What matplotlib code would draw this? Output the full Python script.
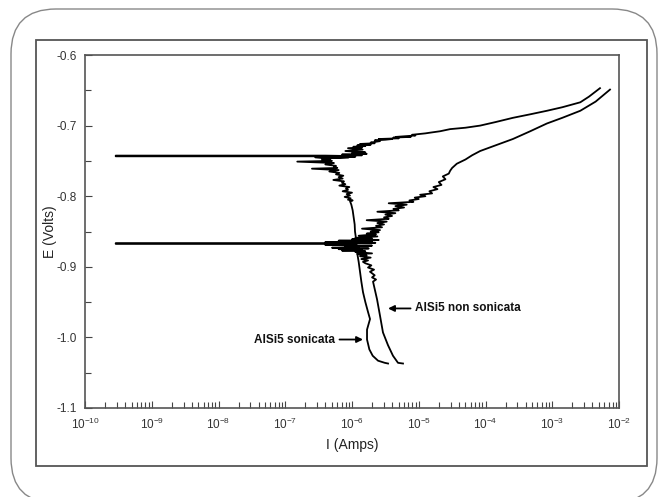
import numpy as np
import matplotlib
matplotlib.use("Agg")
import matplotlib.pyplot as plt
from matplotlib.patches import Rectangle, FancyBboxPatch
from matplotlib.ticker import LogLocator, NullFormatter, MultipleLocator

plt.rcParams["font.family"] = ["Liberation Sans", "DejaVu Sans"]
plt.rcParams["mathtext.fontset"] = "custom"
plt.rcParams["mathtext.rm"] = "Liberation Sans"
plt.rcParams["mathtext.it"] = "Liberation Sans:italic"
plt.rcParams["axes.unicode_minus"] = False

# AlSi5 sonicata: log10(I/A) and E (V), in scan order (cathodic -> anodic)
son_logi = [-5.46, -5.51, -5.61, -5.69, -5.74, -5.775, -5.775, -5.73, -5.76, -5.80,
            -5.835, -5.86, -5.88, -5.90, -5.925, -5.93, -5.94, -5.955, -5.96, -5.975,
            -5.99, -6.01, -6.03,
            -5.99, -6.06, -6.02, -6.11, -6.03, -6.08, -6.00, -6.14, -6.06, -6.09,
            -6.04, -6.19, -6.10, -6.15, -6.12, -6.28, -6.14, -6.20, -6.13, -6.24,
            -6.19, -6.34, -6.20, -6.60, -6.22, -6.27, -6.24, -6.40, -6.27, -6.82,
            -6.30, -6.45, -6.32, -6.55, -6.38,
            -9.54, -9.54,
            -6.40, -6.10, -6.45, -6.05, -6.35, -5.95, -6.20, -5.85, -6.15, -5.78,
            -6.00, -5.80, -6.10, -5.84, -6.06, -5.85, -5.98, -5.80, -5.92, -5.72,
            -5.88, -5.66, -5.72, -5.58, -5.66, -5.50, -5.40, -5.60, -5.30, -5.38,
            -5.12, -5.34, -5.05, -5.10, -4.90, -4.83,
            -4.68, -4.53, -4.30, -4.08, -3.85, -3.59, -3.33, -3.08, -2.85, -2.58,
            -2.45, -2.285]
son_e = [-1.037, -1.036, -1.033, -1.026, -1.017, -1.003, -0.989, -0.974, -0.964, -0.950,
         -0.936, -0.921, -0.907, -0.893, -0.879, -0.870, -0.860, -0.850, -0.840, -0.830,
         -0.820, -0.812, -0.807,
         -0.806, -0.805, -0.803, -0.801, -0.799, -0.797, -0.795, -0.793, -0.791, -0.789,
         -0.787, -0.785, -0.783, -0.781, -0.779, -0.777, -0.775, -0.773, -0.771, -0.769,
         -0.767, -0.765, -0.763, -0.761, -0.760, -0.758, -0.757, -0.755, -0.753, -0.751,
         -0.750, -0.748, -0.747, -0.745, -0.7435,
         -0.7435, -0.7425,
         -0.7425, -0.743, -0.744, -0.745, -0.746, -0.744, -0.743, -0.742, -0.741, -0.740,
         -0.739, -0.738, -0.736, -0.734, -0.732, -0.731, -0.730, -0.729, -0.728, -0.727,
         -0.726, -0.725, -0.724, -0.722, -0.721, -0.720, -0.719, -0.719, -0.718, -0.717,
         -0.716, -0.716, -0.714, -0.713, -0.711, -0.710,
         -0.708, -0.705, -0.703, -0.700, -0.695, -0.689, -0.684, -0.679, -0.674, -0.667,
         -0.659, -0.647]

# AlSi5 non sonicata
non_logi = [-5.236, -5.311, -5.386, -5.461, -5.536, -5.581, -5.625, -5.685, -5.64, -5.70,
            -5.66, -5.73, -5.67, -5.76, -5.71, -5.80, -5.835,
            -5.76, -5.86, -5.72, -5.88, -5.78, -5.92, -5.70, -5.95, -5.80, -6.15,
            -5.85, -6.20, -5.75, -6.30, -5.90, -6.10, -5.70, -6.40, -5.95, -6.30,
            -9.54, -9.54, -6.30,
            -5.65, -6.40, -5.70, -6.20, -5.60, -6.00, -5.70, -5.95,
            -5.62, -5.90, -5.64, -5.78, -5.60, -5.72, -5.58, -5.85, -5.55, -5.64,
            -5.52, -5.62, -5.48, -5.78, -5.45, -5.52, -5.40, -5.50, -5.35, -5.62,
            -5.30, -5.38, -5.22, -5.35, -5.18, -5.45, -5.08, -5.14, -5.00, -5.06,
            -4.90, -4.98, -4.80, -4.84, -4.72, -4.78, -4.66, -4.70, -4.60, -4.64,
            -4.55, -4.53, -4.50, -4.43, -4.30, -4.20, -4.08, -3.85, -3.59, -3.33,
            -3.08, -2.85, -2.58, -2.35, -2.135]
non_e = [-1.037, -1.036, -1.026, -1.011, -0.993, -0.969, -0.946, -0.921, -0.918, -0.915,
         -0.912, -0.907, -0.904, -0.901, -0.898, -0.895, -0.893,
         -0.891, -0.889, -0.887, -0.885, -0.884, -0.882, -0.881, -0.879, -0.878, -0.877,
         -0.876, -0.875, -0.874, -0.873, -0.872, -0.871, -0.870, -0.869, -0.868, -0.8675,
         -0.8675, -0.8665, -0.8665,
         -0.866, -0.865, -0.864, -0.863, -0.862, -0.861, -0.860, -0.859,
         -0.857, -0.856, -0.854, -0.853, -0.851, -0.850, -0.848, -0.846, -0.844, -0.842,
         -0.840, -0.838, -0.836, -0.834, -0.832, -0.830, -0.828, -0.826, -0.824, -0.822,
         -0.820, -0.818, -0.816, -0.814, -0.812, -0.810, -0.808, -0.806, -0.804, -0.802,
         -0.800, -0.798, -0.796, -0.793, -0.790, -0.787, -0.784, -0.780, -0.776, -0.772,
         -0.768, -0.764, -0.760, -0.754, -0.748, -0.742, -0.736, -0.728, -0.719, -0.708,
         -0.697, -0.689, -0.679, -0.666, -0.649]

W, H = 660, 497
fig = plt.figure(figsize=(W / 100, H / 100), dpi=100)

# outer rounded frame and inner box
fig.patches.append(FancyBboxPatch((0.11, -0.06), 6.46, 4.97 - 0.09 + 0.06,
                                  boxstyle="round,pad=0,rounding_size=0.45",
                                  transform=fig.dpi_scale_trans, fill=False,
                                  ec="#888888", lw=1.0))
fig.patches.append(Rectangle((36 / W, 1 - 466 / H), (647 - 36) / W, (466 - 40) / H,
                             transform=fig.transFigure, fill=False, ec="#555555", lw=1.3))

ax = fig.add_axes([85 / W, 1 - 408 / H, (619 - 85) / W, (408 - 55) / H])
ax.plot(10 ** np.array(son_logi), son_e, color="black", lw=1.3)
ax.plot(10 ** np.array(non_logi), non_e, color="black", lw=1.3)

ax.set_xscale("log")
ax.set_xlim(1e-10, 1e-2)
ax.set_ylim(-1.1, -0.6)
ax.xaxis.set_major_locator(LogLocator(base=10, numticks=20))
ax.xaxis.set_minor_locator(LogLocator(base=10, subs=np.arange(2, 10), numticks=100))
ax.xaxis.set_minor_formatter(NullFormatter())
ax.yaxis.set_major_locator(MultipleLocator(0.1))
ax.yaxis.set_minor_locator(MultipleLocator(0.05))
ax.yaxis.set_major_formatter(plt.FuncFormatter(lambda v, p: f"{v:.1f}"))

ax.tick_params(which="both", direction="in", colors="#444444", labelcolor="#333333",
               top=False, right=False)
ax.tick_params(axis="y", labelsize=8.5, pad=6)
ax.tick_params(axis="x", labelsize=8.5, pad=6)
ax.tick_params(which="major", length=5, width=0.8)
ax.tick_params(which="minor", length=4, width=0.8)
for s in ax.spines.values():
    s.set_color("#555555")
    s.set_linewidth(1.2)

ax.set_xlabel("I (Amps)", fontsize=10, color="#222222", labelpad=5)
ax.set_ylabel("E (Volts)", fontsize=10, color="#222222")
ax.yaxis.set_label_coords(-0.053, 0.5)

ax.annotate("AlSi5 sonicata", xy=(10 ** -5.835, -1.003), xytext=(10 ** -6.25, -1.003),
            ha="right", va="center", fontsize=8.5, fontweight="bold", color="#111111",
            arrowprops=dict(arrowstyle="-|>", color="black", lw=1.3,
                            mutation_scale=9, shrinkA=1, shrinkB=0))
ax.annotate("AlSi5 non sonicata", xy=(10 ** -5.46, -0.959), xytext=(10 ** -5.06, -0.959),
            ha="left", va="center", fontsize=8.5, fontweight="bold", color="#111111",
            arrowprops=dict(arrowstyle="-|>", color="black", lw=1.3,
                            mutation_scale=9, shrinkA=1, shrinkB=0))

fig.savefig("out.png", dpi=100)
